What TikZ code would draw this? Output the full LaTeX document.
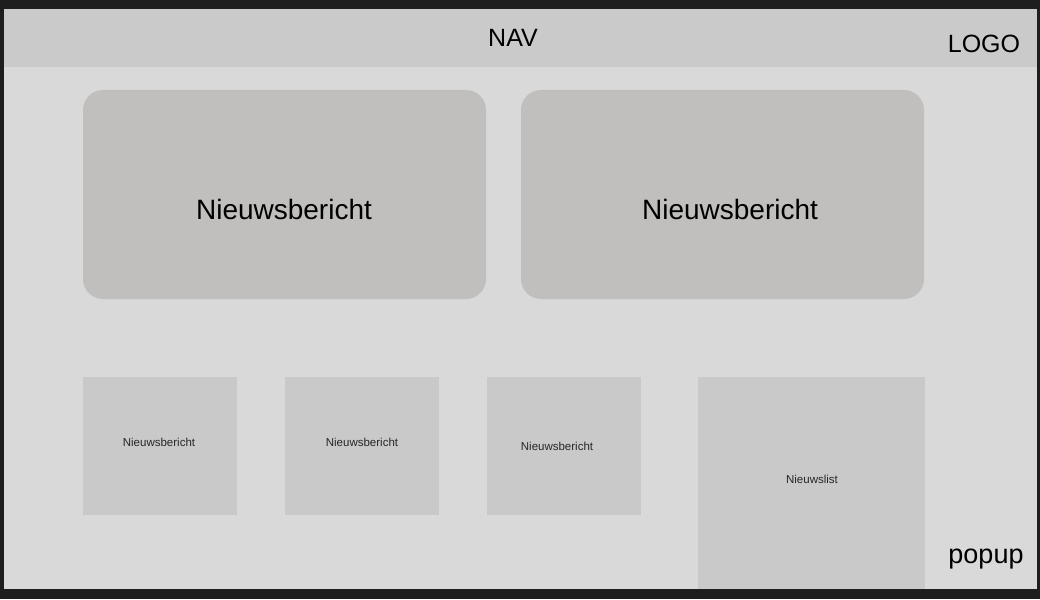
\documentclass[tikz,border=0pt]{standalone}
\usepackage{fontspec}
\setmainfont{Liberation Sans}
\usetikzlibrary{positioning}
\definecolor{screenbg}{HTML}{1E1E1E}
\definecolor{pagegray}{HTML}{D9D9D9}
\definecolor{navgray}{HTML}{CACACA}
\definecolor{heroGray}{HTML}{C0BFBD}
\definecolor{cardgray}{HTML}{C9C9C9}
\begin{document}
\begin{tikzpicture}[x=1pt,y=-1pt,
    label text/.style={inner sep=0pt,anchor=base,text=black},
    big text/.style={label text,font=\fontsize{28}{33}\selectfont},
    mid text/.style={label text,font=\fontsize{25}{30}\selectfont},
    small text/.style={label text,font=\fontsize{11.5}{14}\selectfont,text=black!85}]
    \newcommand{\cardtop}{377}
    \newcommand{\cardbot}{515}
    \useasboundingbox (0,0) rectangle (1040,599);
    \fill[screenbg] (0,0) rectangle (1040,599);
    % page and navigation bar
    \fill[pagegray] (4,9) rectangle (1037,589);
    \fill[navgray] (4,9) rectangle (1037,67);
    \node[mid text] (nav) at (513,47) {NAV};
    \node[mid text] (logo) at (984,53) {LOGO};
    \node[mid text,font=\fontsize{27}{32}\selectfont] (popup) at (986,563) {popup};
    % two large news items
    \foreach \x in {83,521}
      \fill[heroGray,rounded corners=20pt] (\x,90) rectangle (\x+403,299);
    \node[big text] (heroa) at (284,219) {Nieuwsbericht};
    \node[big text] (herob) at (730,219) {Nieuwsbericht};
    % small news items
    \foreach \x/\tx/\ty/\name in {83/159/446/carda,285/362/446/cardb,487/557/450/cardc}{
      \fill[cardgray] (\x,\cardtop) rectangle (\x+154,\cardbot);
      \node[small text] (\name) at (\tx,\ty) {Nieuwsbericht};
    }
    % news list
    \fill[cardgray] (698,\cardtop) rectangle (925,589);
    \node[small text] (newslist) at (812,483) {Nieuwslist};
\end{tikzpicture}
\end{document}
